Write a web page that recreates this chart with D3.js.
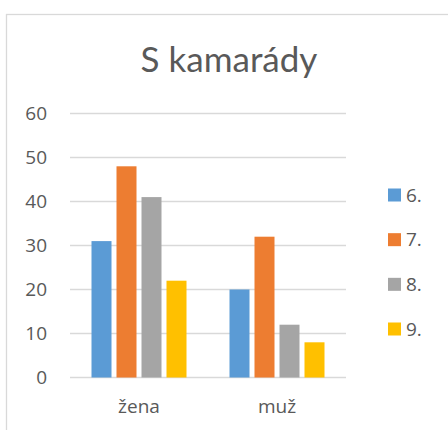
<!DOCTYPE html>
<html>
<head>
<meta charset="utf-8">
<script src="https://cdn.jsdelivr.net/npm/d3@7"></script>
<style>
  body { margin: 0; background: #fff; }
  text { font-family: "Open Sans", Lato, sans-serif; fill: #595959; }
</style>
</head>
<body>
<div id="main"></div>
<script>
// Data
const title = 'S kamarády';
const categories = ['žena', 'muž'];
const seriesNames = ['6.', '7.', '8.', '9.'];
const seriesColors = ['#5b9bd5', '#ed7d31', '#a5a5a5', '#ffc000'];
const values6 = [31, 20];
const values7 = [48, 32];
const values8 = [41, 12];
const values9 = [22, 8];
const yTicks = [0, 10, 20, 30, 40, 50, 60];

const allSeries = [values6, values7, values8, values9];

// Dimensions
const w = 448;
const h = 430;
const plotLeft = 70;
const plotRight = 346;
const plotTop = 113.5;
const plotBottom = 377.5;
const labelFont = '"Open Sans", Lato, sans-serif';

const svg = d3.select('#main')
    .append('svg')
    .attr('width', w)
    .attr('height', h)

// chart frame (runs off the right and bottom)
svg.append('rect')
    .attr('x', 6.5)
    .attr('y', 14.5)
    .attr('width', 460)
    .attr('height', 440)
    .attr('fill', 'none')
    .attr('stroke', '#d9d9d9')
    .attr('stroke-width', 1.3)

// Title
svg.append('text')
    .attr('x', 229)
    .attr('y', 72)
    .attr('text-anchor', 'middle')
    .style('font-family', 'Lato, sans-serif')
    .style('font-size', '35px')
    .text(title)

// Scales
const xScale = d3.scaleBand()
    .domain(categories)
    .range([plotLeft, plotRight])

const xInner = d3.scaleBand()
    .domain(seriesNames)
    .range([0, 95])
    .paddingInner(0.2)

const yScale = d3.scaleLinear()
    .domain([0, 60])
    .range([plotBottom, plotTop])

// Gridlines
svg.append('g')
    .selectAll('line')
    .data(yTicks)
    .enter()
    .append('line')
    .attr('x1', plotLeft)
    .attr('x2', plotRight)
    .attr('y1', (d) => yScale(d))
    .attr('y2', (d) => yScale(d))
    .attr('stroke', '#d9d9d9')
    .attr('stroke-width', 1.3)

// Y axis labels
const yAxis = d3.axisLeft(yScale)
    .tickValues(yTicks)
    .tickSize(0)
    .tickPadding(0)

svg.append('g')
    .attr('transform', `translate(47, 0)`)
    .call(yAxis)
    .call((g) => g.select('.domain').remove())
    .selectAll('text')
    .style('font-size', '19px')
    .style('font-family', labelFont)
    .attr('fill', '#595959')

// Bars
const groups = svg.selectAll('.group')
    .data(categories)
    .enter()
    .append('g')
    .attr('class', 'group')
    .attr('transform', (d) => `translate(${xScale(d) + xScale.bandwidth() / 2 - 47.5}, 0)`)

groups.selectAll('rect')
    .data((c, ci) => seriesNames.map((s, si) => ({ s: s, v: allSeries[si][ci], color: seriesColors[si] })))
    .enter()
    .append('rect')
    .attr('x', (d) => xInner(d.s))
    .attr('y', (d) => yScale(d.v))
    .attr('width', xInner.bandwidth())
    .attr('height', (d) => plotBottom - yScale(d.v))
    .attr('fill', (d) => d.color)

// X axis labels
const xAxis = d3.axisBottom(xScale)
    .tickSize(0)
    .tickPadding(0)

svg.append('g')
    .attr('transform', `translate(0, 399)`)
    .call(xAxis)
    .call((g) => g.select('.domain').remove())
    .selectAll('text')
    .style('font-size', '19px')
    .style('font-family', labelFont)
    .attr('fill', '#595959')

// Legend
const legendY = d3.scalePoint()
    .domain(seriesNames)
    .range([195, 329])

const legend = svg.append('g')

legend.selectAll('rect')
    .data(seriesNames)
    .enter()
    .append('rect')
    .attr('x', 388)
    .attr('y', (d) => legendY(d) - 6.5)
    .attr('width', 13)
    .attr('height', 13)
    .attr('fill', (d, i) => seriesColors[i])

legend.selectAll('text')
    .data(seriesNames)
    .enter()
    .append('text')
    .attr('x', 406)
    .attr('y', (d) => legendY(d))
    .attr('dy', '0.35em')
    .style('font-size', '19px')
    .text((d) => d)
</script>
</body>
</html>
